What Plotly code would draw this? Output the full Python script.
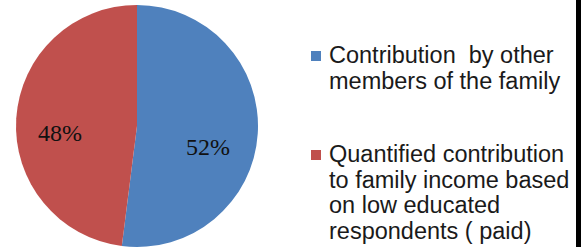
import plotly.graph_objects as go

# Data
categories = ["Contribution  by other members of the family",
              "Quantified contribution to family income based on low educated respondents ( paid)"]
values = [52, 48]
colors = ["#4F81BD", "#C0504D"]
legend_lines = [
    ["Contribution\u00a0\u00a0by other", "members of the family"],
    ["Quantified contribution", "to family income based", "on low educated", "respondents ( paid)"],
]
# label positions (pixels) for the percentage labels, in slice order
label_pos = [(208, 147), (60, 133)]

W, H = 587, 247

fig = go.Figure()
fig.add_trace(go.Pie(
    labels=categories,
    values=values,
    marker=dict(colors=colors, line=dict(width=0)),
    sort=False,
    direction="clockwise",
    rotation=0,
    textinfo="none",
    domain=dict(x=[16 / W, 258 / W], y=[0, 0.98]),
    showlegend=False,
    hoverinfo="label+percent",
))

total = sum(values)
annotations = []
for v, (px, py) in zip(values, label_pos):
    annotations.append(dict(text=f"{round(100 * v / total)}%", xref="paper", yref="paper",
                            x=px / W, y=1 - py / H, xanchor="center", yanchor="middle",
                            showarrow=False,
                            font=dict(family="Liberation Serif", size=24, color="#111111")))

# Legend drawn as squares + text lines
first_baselines = [62, 161]
line_step = 25.5
text_x = 327
shapes = []
for i, lines in enumerate(legend_lines):
    b0 = first_baselines[i]
    sq_c = b0 - 6
    shapes.append(dict(type="rect", xref="paper", yref="paper",
                       x0=311 / W, x1=321 / W,
                       y0=1 - (sq_c + 5) / H, y1=1 - (sq_c - 5) / H,
                       fillcolor=colors[i], line=dict(width=0)))
    for j, ln in enumerate(lines):
        yb = b0 + j * line_step
        annotations.append(dict(text=ln, xref="paper", yref="paper",
                                x=text_x / W, y=1 - (yb - 7) / H,
                                xanchor="left", yanchor="middle",
                                showarrow=False,
                                font=dict(family="Liberation Sans, Arial, sans-serif",
                                          size=23.5, color="#1a1a1a")))

# black bar at right edge
shapes.append(dict(type="rect", xref="paper", yref="paper",
                   x0=576 / W, x1=581 / W, y0=0, y1=1,
                   fillcolor="#000000", line=dict(width=0)))

fig.update_layout(
    width=W, height=H,
    margin=dict(l=0, r=0, t=0, b=0),
    paper_bgcolor="white",
    plot_bgcolor="white",
    annotations=annotations,
    shapes=shapes,
)

fig.write_html("out.html", config={"displayModeBar": False},
               post_script="document.body.style.margin='0';document.body.style.overflow='hidden';")
